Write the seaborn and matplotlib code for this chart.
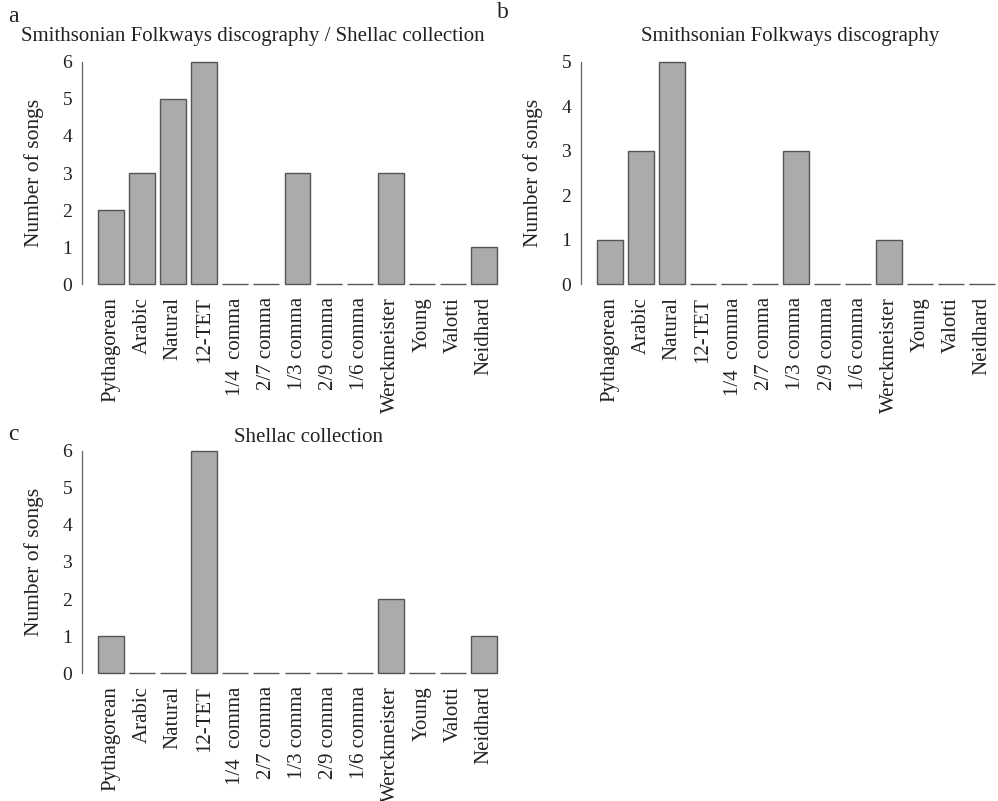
import matplotlib
matplotlib.use("Agg")
import matplotlib.pyplot as plt
import seaborn as sns
import pandas as pd

categories = ["Pythagorean", "Arabic", "Natural", "12-TET", "1/4  comma", "2/7 comma",
              "1/3 comma", "2/9 comma", "1/6 comma", "Werckmeister", "Young", "Valotti", "Neidhard"]
combined = [2, 3, 5, 6, 0, 0, 3, 0, 0, 3, 0, 0, 1]
folkways = [1, 3, 5, 0, 0, 0, 3, 0, 0, 1, 0, 0, 0]
shellac = [1, 0, 0, 6, 0, 0, 0, 0, 0, 2, 0, 0, 1]
titles = ["Smithsonian Folkways discography / Shellac collection",
          "Smithsonian Folkways discography", "Shellac collection"]
letters = ["a", "b", "c"]

sns.set_theme(style="white")
plt.rcParams["font.family"] = ["Liberation Serif", "DejaVu Serif"]

W, H = 998, 801
fig = plt.figure(figsize=(W / 100, H / 100), dpi=100)

def px_axes(l, t, r, b):
    return fig.add_axes([l / W, 1 - b / H, (r - l) / W, (b - t) / H])

BAR = "#ababab"
EDGE = "#555555"
TXT = "#222222"

panels = [
    (combined, (82, 53, 513, 293), 6),
    (folkways, (581, 53, 1011, 293), 5),
    (shellac, (82, 442, 513, 682), 6),
]

for i, (vals, box, ymax) in enumerate(panels):
    ax = px_axes(*box)
    df = pd.DataFrame({"cat": categories, "n": vals})
    sns.barplot(data=df, x="cat", y="n", ax=ax, color=BAR, saturation=1,
                edgecolor=EDGE, linewidth=1.0, width=1 / 1.2)
    ext = 0.513
    ax.set_xlim(-1 / 2.4 - ext, 12 + 1 / 2.4 + ext)
    ax.set_ylim(-0.04 * ymax, ymax * 1.04)
    ax.set_yticks(range(0, ymax + 1))
    for s in ["top", "right", "bottom"]:
        ax.spines[s].set_visible(False)
    ax.spines["left"].set_bounds(0, ymax)
    ax.spines["left"].set_color("#666666")
    ax.spines["left"].set_linewidth(0.9)
    ax.tick_params(axis="y", direction="out", length=5, width=0.9, color="#666666",
                   labelsize=14, labelcolor=TXT, pad=2)
    ax.tick_params(axis="x", length=0, labelsize=15, labelcolor=TXT, pad=3)
    ax.set_xticks(range(len(categories)))
    ax.set_xticklabels(categories, rotation=90, va="top", ha="center")
    ax.set_xlabel("")
    ax.set_ylabel("Number of songs", fontsize=15.5, color=TXT, labelpad=13)
    ax.patch.set_alpha(0)

fig.text(253 / W, 1 - 36 / H, titles[0], ha="center", va="center", fontsize=15, color=TXT)
fig.text(790 / W, 1 - 36 / H, titles[1], ha="center", va="center", fontsize=15, color=TXT)
fig.text(309 / W, 1 - 437 / H, titles[2], ha="center", va="center", fontsize=15, color=TXT)
fig.text(8 / W, 1 - 17 / H, letters[0], ha="left", va="center", fontsize=17, color=TXT)
fig.text(497 / W, 1 - 12 / H, letters[1], ha="left", va="center", fontsize=17, color=TXT)
fig.text(8 / W, 1 - 434 / H, letters[2], ha="left", va="center", fontsize=17, color=TXT)

fig.savefig("out.png", dpi=100, facecolor="white")
